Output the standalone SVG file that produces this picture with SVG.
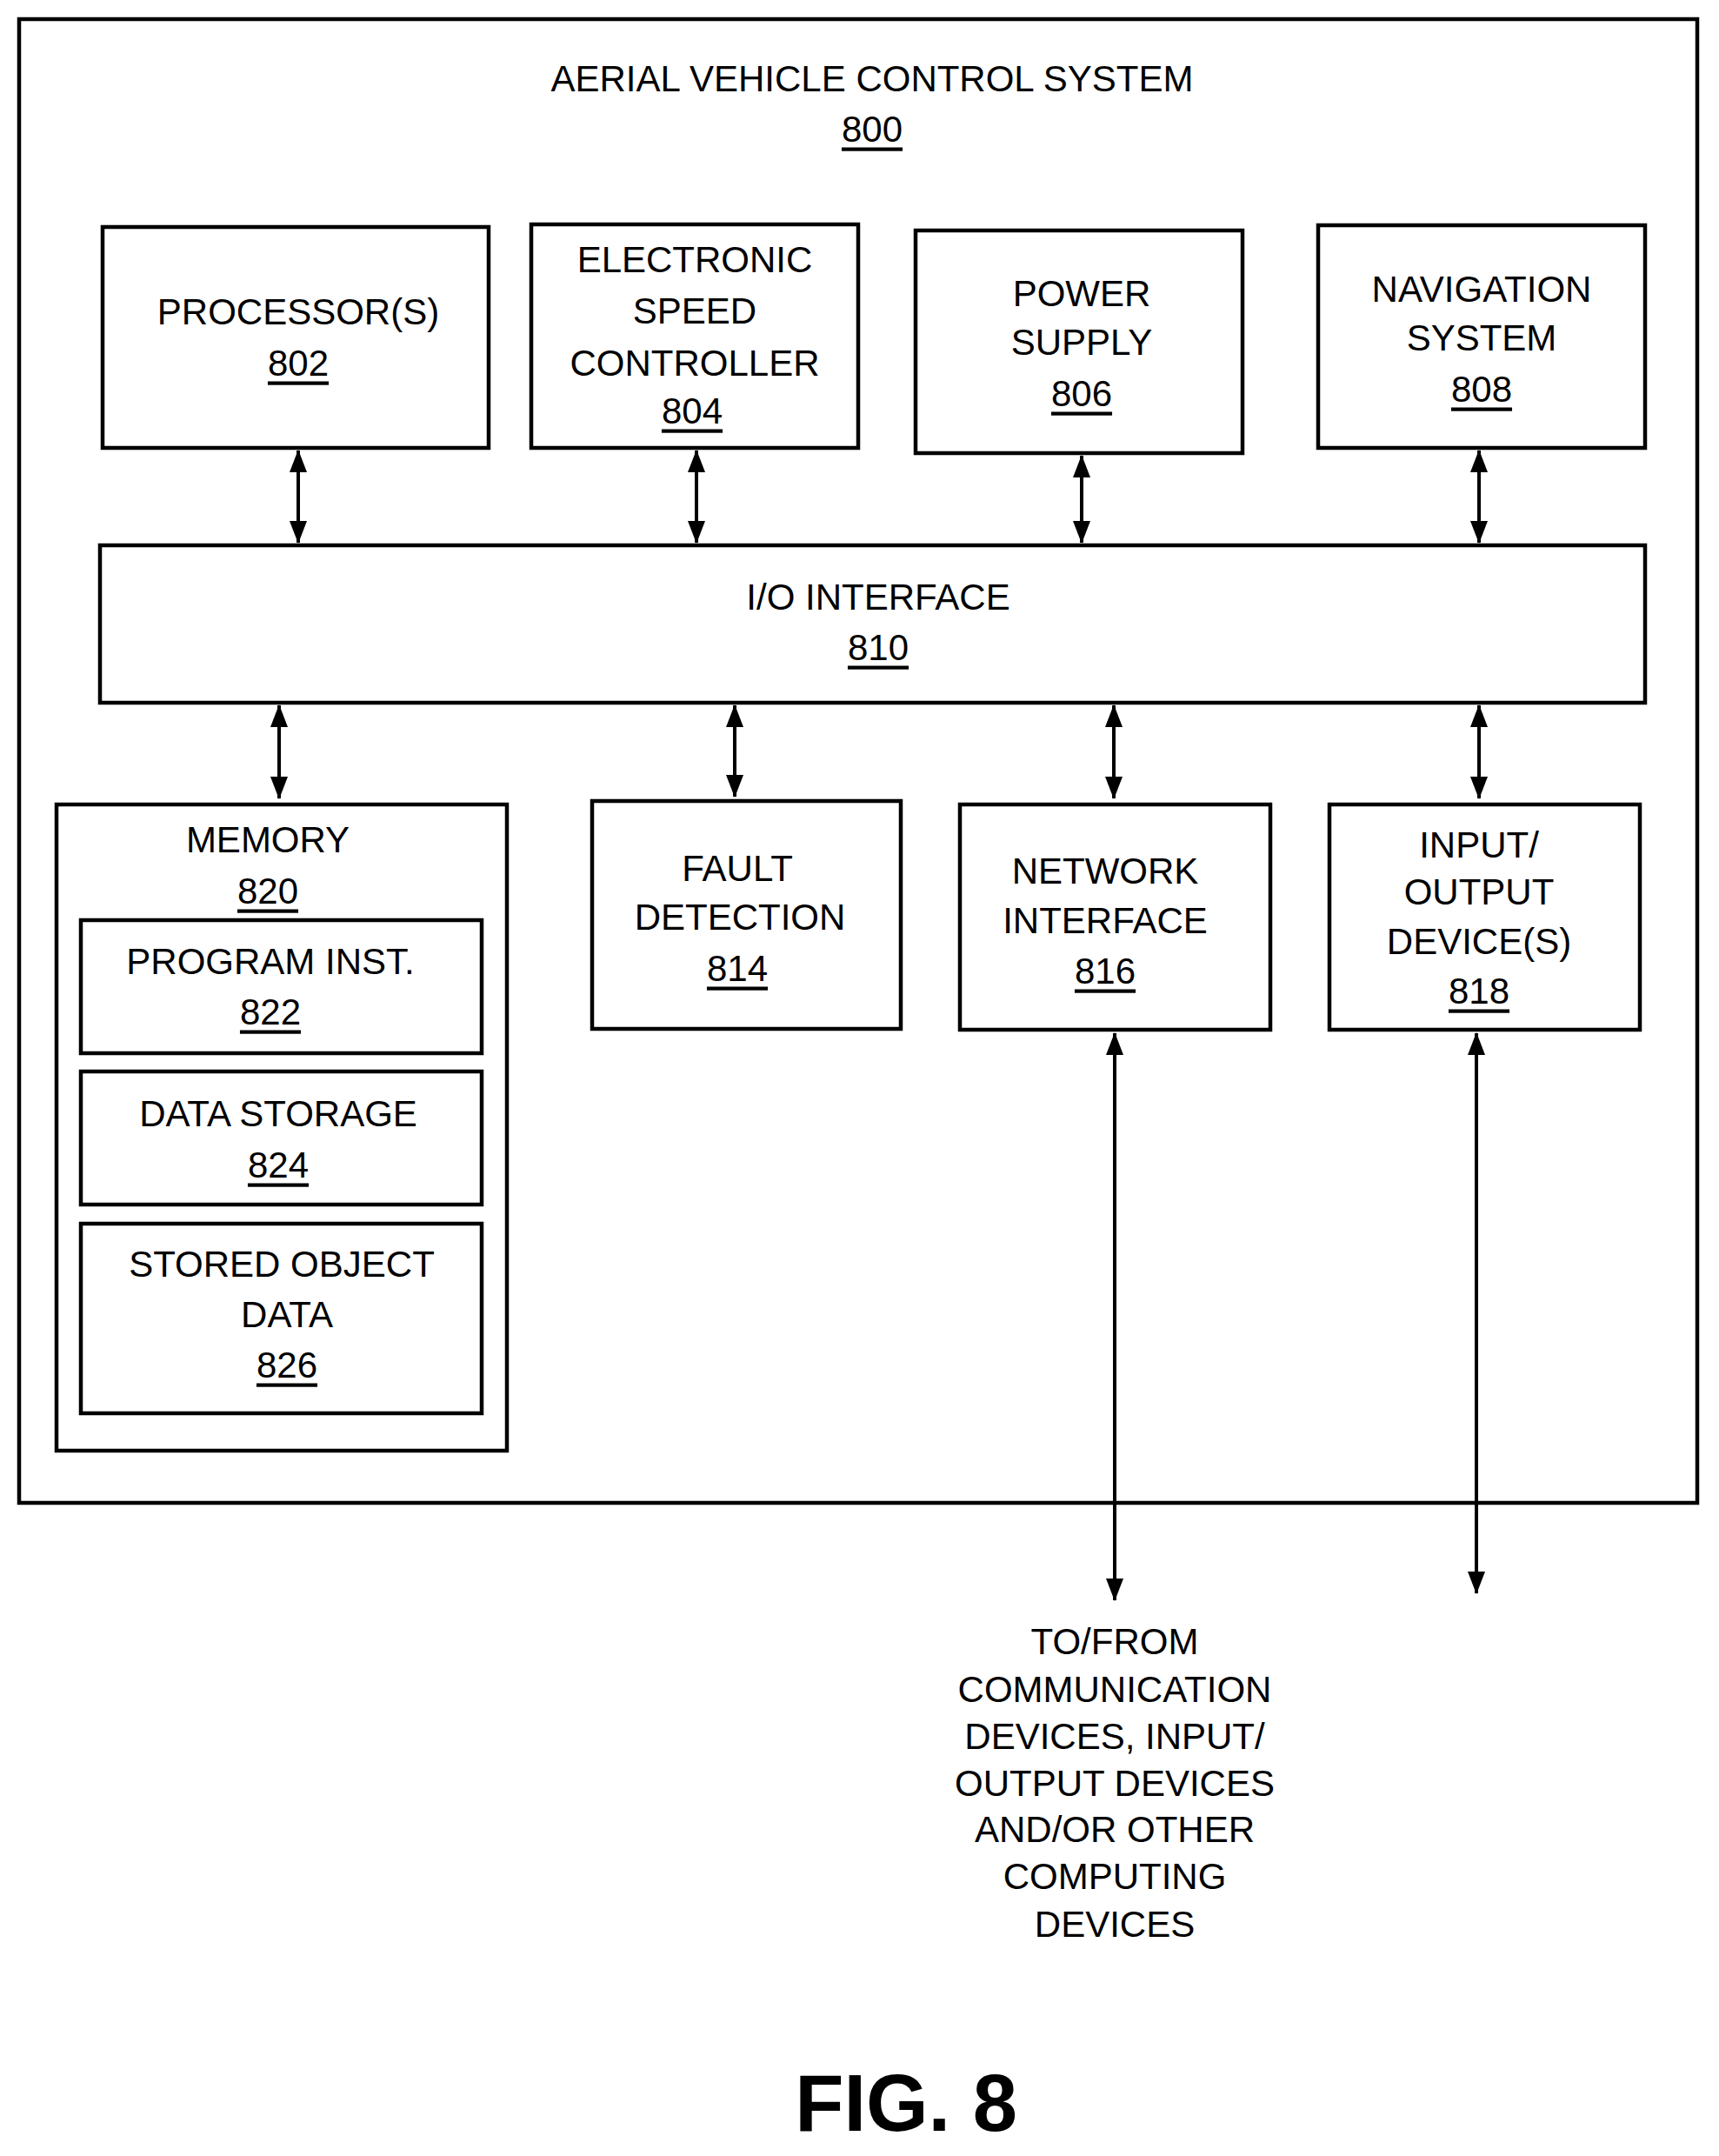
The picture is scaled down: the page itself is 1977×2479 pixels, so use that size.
<svg xmlns="http://www.w3.org/2000/svg" width="1977" height="2479" viewBox="0 0 1977 2479">
<style>
rect{fill:none;stroke:#000;stroke-width:4.5}
text{font-family:"Liberation Sans",Arial,sans-serif;font-size:42px;text-anchor:middle;dominant-baseline:central;fill:#000}
.u{text-decoration:underline}
line{stroke:#000;stroke-width:4}
</style>
<defs>
<marker id="a" viewBox="0 0 26 20" refX="25" refY="10" markerWidth="26" markerHeight="20" orient="auto-start-reverse" markerUnits="userSpaceOnUse"><path d="M0,0 L26,10 L0,20 z"/></marker>
</defs>
<rect width="1977" height="2479" style="fill:#fff;stroke:none"/>
<g id="system"><rect x="22" y="22" width="1930" height="1706"/>
<text x="1003" y="90">AERIAL VEHICLE CONTROL SYSTEM</text><text x="1003" y="148" class="u">800</text></g>
<g id="n802"><rect x="118" y="261" width="444" height="254"/><text x="343" y="358">PROCESSOR(S)</text><text x="343" y="417" class="u">802</text></g>
<g id="n804"><rect x="611" y="258" width="376" height="257"/><text x="799" y="298">ELECTRONIC</text><text x="799" y="357">SPEED</text><text x="799" y="417">CONTROLLER</text><text x="796" y="472" class="u">804</text></g>
<g id="n806"><rect x="1053" y="265" width="376" height="256"/><text x="1244" y="337">POWER</text><text x="1244" y="393">SUPPLY</text><text x="1244" y="452" class="u">806</text></g>
<g id="n808"><rect x="1516" y="259" width="376" height="256"/><text x="1704" y="332">NAVIGATION</text><text x="1704" y="388">SYSTEM</text><text x="1704" y="447" class="u">808</text></g>
<g id="n810"><rect x="115" y="627" width="1777" height="181"/><text x="1010" y="686">I/O INTERFACE</text><text x="1010" y="744" class="u">810</text></g>
<g id="n820"><rect x="65" y="925" width="518" height="743"/><text x="308" y="965">MEMORY</text><text x="308" y="1024" class="u">820</text></g>
<g id="n822"><rect x="93" y="1058" width="461" height="153"/><text x="311" y="1105">PROGRAM INST.</text><text x="311" y="1163" class="u">822</text></g>
<g id="n824"><rect x="93" y="1232" width="461" height="153"/><text x="320" y="1280">DATA STORAGE</text><text x="320" y="1339" class="u">824</text></g>
<g id="n826"><rect x="93" y="1407" width="461" height="218"/><text x="324" y="1453">STORED OBJECT</text><text x="330" y="1511">DATA</text><text x="330" y="1569" class="u">826</text></g>
<g id="n814"><rect x="681" y="921" width="355" height="262"/><text x="848" y="998">FAULT</text><text x="851" y="1054">DETECTION</text><text x="848" y="1113" class="u">814</text></g>
<g id="n816"><rect x="1104" y="925" width="357" height="259"/><text x="1271" y="1001">NETWORK</text><text x="1271" y="1058">INTERFACE</text><text x="1271" y="1116" class="u">816</text></g>
<g id="n818"><rect x="1529" y="925" width="357" height="259"/><text x="1701" y="971">INPUT/</text><text x="1701" y="1025">OUTPUT</text><text x="1701" y="1082">DEVICE(S)</text><text x="1701" y="1139" class="u">818</text></g>
<g id="connectors" marker-start="url(#a)" marker-end="url(#a)">
<line x1="343" y1="518" x2="343" y2="624"/><line x1="801" y1="518" x2="801" y2="624"/><line x1="1244" y1="524" x2="1244" y2="624"/><line x1="1701" y1="518" x2="1701" y2="624"/>
<line x1="321" y1="811" x2="321" y2="918"/><line x1="845" y1="811" x2="845" y2="916"/><line x1="1281" y1="811" x2="1281" y2="918"/><line x1="1701" y1="811" x2="1701" y2="918"/>
<line x1="1282" y1="1188" x2="1282" y2="1840"/><line x1="1698" y1="1188" x2="1698" y2="1832"/>
</g>
<g id="label"><text x="1282" y="1887">TO/FROM</text><text x="1282" y="1942">COMMUNICATION</text><text x="1282" y="1996">DEVICES, INPUT/</text><text x="1282" y="2050">OUTPUT DEVICES</text><text x="1282" y="2103">AND/OR OTHER</text><text x="1282" y="2157">COMPUTING</text><text x="1282" y="2212">DEVICES</text></g>
<text x="1042" y="2418" style="font-weight:bold;font-size:92px">FIG. 8</text>
</svg>
